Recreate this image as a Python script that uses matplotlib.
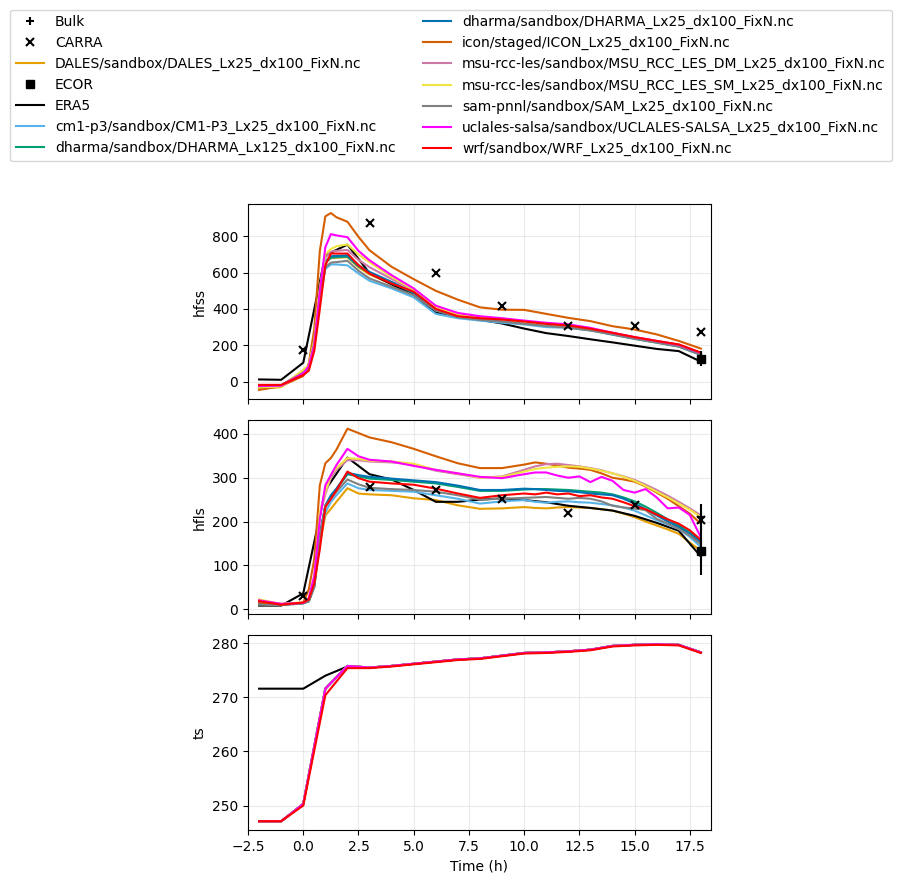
import numpy as np
import matplotlib
matplotlib.use("Agg")
import matplotlib.pyplot as plt

# --- tiempos ---
t_les_hfss = [-2, -1, 0, 0.25, 0.5, 0.75, 1, 1.25, 1.5, 2, 2.5, 3, 4, 5, 6, 7, 8, 9, 10, 11, 12, 13, 14, 15, 16, 17, 18]
t_les_hfls = [-2, -1, 0, 0.25, 0.5, 0.75, 1, 1.25, 1.5, 2, 2.5, 3, 4, 5, 6, 7, 8, 9, 10, 10.5, 11, 11.5,
              12, 12.5, 13, 13.5, 14, 14.5, 15, 15.5, 16, 16.5, 17, 17.5, 18]
t_hourly = list(range(-2, 19))
t_carra = [0, 3, 6, 9, 12, 15, 18]
t_obs = [18]

# --- observaciones ---
carra_hfss = [174, 873, 599, 419, 304, 304, 275]
carra_hfls = [30, 279, 273, 251, 220, 238, 203]
bulk_hfss, bulk_hfss_err = [127], [40]
bulk_hfls, bulk_hfls_err = [210], [31]
ecor_hfss = [126]
ecor_hfls, ecor_hfls_err = [133], [54]

era5_hfss = [12, 10, 104, 696, 754, 597, 535, 478, 379, 362, 340, 320, 292, 267, 251, 233, 216, 198, 180, 168, 110]
era5_hfls = [8, 8, 36, 272, 346, 308, 296, 272, 245, 245, 250, 253, 249, 244, 236, 231, 225, 213, 197, 179, 120]
era5_ts = [271.6, 271.6, 271.6, 274.0, 275.7, 275.5, 275.8, 276.2, 276.6, 277.0, 277.2, 277.7,
           278.2, 278.3, 278.5, 278.8, 279.5, 279.7, 279.8, 279.7, 278.3]

# --- LES: hfss ---
hfss_dales = [-40, -30, 62, 88, 225, 470, 655, 680, 682, 685, 630, 590, 538, 485, 395, 355, 342, 332, 318, 306, 298, 282, 260, 236, 215, 193, 148]
hfss_cm1 = [-28, -24, 50, 75, 210, 450, 620, 645, 645, 640, 595, 555, 513, 464, 373, 349, 336, 324, 315, 300, 296, 282, 258, 235, 214, 193, 146]
hfss_dharma125 = [-22, -21, 52, 78, 220, 475, 655, 682, 685, 688, 635, 598, 545, 488, 396, 356, 343, 333, 320, 309, 300, 284, 262, 238, 217, 195, 150]
hfss_dharma25 = [-20, -20, 50, 75, 220, 480, 660, 690, 692, 695, 640, 604, 549, 490, 398, 358, 345, 335, 322, 310, 302, 286, 262, 238, 218, 196, 150]
hfss_icon = [-46, -24, 31, 100, 290, 720, 910, 928, 905, 880, 797, 723, 632, 564, 500, 451, 409, 396, 395, 373, 351, 333, 305, 287, 260, 224, 182]
hfss_msu_dm = [-28, -25, 60, 88, 225, 500, 680, 715, 720, 725, 670, 630, 565, 500, 405, 368, 350, 340, 328, 316, 306, 288, 264, 240, 218, 198, 152]
hfss_msu_sm = [-31, -28, 64, 90, 230, 520, 700, 730, 745, 755, 700, 657, 577, 505, 410, 370, 352, 343, 330, 318, 308, 290, 265, 240, 220, 200, 155]
hfss_sam = [-25, -22, 50, 75, 215, 460, 630, 655, 658, 665, 610, 568, 522, 476, 391, 355, 340, 330, 318, 306, 298, 282, 260, 236, 215, 194, 148]
hfss_uclales = [-24, -22, 46, 85, 200, 500, 740, 812, 805, 795, 720, 668, 586, 513, 418, 378, 360, 349, 336, 324, 315, 296, 269, 245, 224, 203, 158]
hfss_wrf = [-18, -18, 36, 60, 170, 400, 640, 705, 705, 705, 641, 595, 540, 495, 400, 360, 349, 342, 331, 318, 309, 291, 269, 245, 224, 205, 160]

# --- LES: hfls ---
hfls_dales = [18, 10, 14, 18, 50, 150, 214, 229, 245, 276, 264, 262, 260, 253, 249, 237, 229, 230, 233, 231, 230, 232,
              233, 232, 231, 228, 225, 218, 210, 200, 191, 182, 172, 152, 133]
hfls_cm1 = [14, 10, 13, 18, 50, 160, 221, 245, 260, 287, 276, 272, 270, 268, 260, 252, 241, 246, 249, 245, 243, 245,
            246, 244, 243, 240, 237, 232, 225, 214, 203, 193, 183, 165, 142]
hfls_dharma125 = [12, 10, 14, 18, 55, 168, 235, 258, 273, 308, 303, 298, 295, 291, 287, 279, 270, 270, 273, 274, 274, 273,
                  272, 270, 268, 266, 262, 255, 246, 234, 220, 205, 191, 175, 156]
hfls_dharma25 = [12, 10, 14, 18, 55, 170, 237, 260, 275, 311, 306, 302, 298, 294, 290, 282, 272, 272, 275, 274, 272, 270,
                 269, 267, 264, 262, 260, 252, 241, 228, 214, 200, 187, 172, 152]
hfls_icon = [15, 10, 15, 45, 115, 283, 333, 345, 364, 412, 402, 392, 381, 366, 349, 333, 322, 322, 330, 335, 332, 328,
             323, 321, 318, 310, 300, 296, 291, 280, 266, 252, 235, 218, 195]
hfls_msu_dm = [18, 12, 15, 20, 68, 215, 262, 300, 318, 340, 340, 337, 335, 330, 316, 308, 300, 303, 318, 326, 331, 332,
               329, 326, 322, 317, 310, 303, 295, 284, 272, 259, 245, 230, 214]
hfls_msu_sm = [22, 12, 15, 20, 70, 221, 268, 306, 322, 345, 343, 339, 337, 332, 318, 310, 300, 302, 314, 320, 323, 325,
               326, 325, 321, 316, 310, 302, 293, 281, 268, 255, 241, 227, 210]
hfls_sam = [10, 9, 13, 18, 52, 165, 237, 252, 268, 296, 285, 277, 274, 272, 268, 260, 250, 252, 254, 255, 256, 254,
            252, 254, 252, 246, 236, 232, 230, 226, 206, 195, 183, 168, 148]
hfls_uclales = [20, 12, 14, 25, 77, 206, 283, 306, 329, 366, 349, 341, 337, 327, 318, 310, 302, 299, 308, 312, 312, 305,
                300, 303, 290, 302, 293, 272, 266, 274, 255, 230, 232, 215, 164]
hfls_wrf = [18, 10, 15, 22, 59, 137, 233, 252, 271, 314, 299, 291, 287, 284, 275, 264, 254, 260, 264, 262, 266, 262,
            264, 258, 260, 255, 252, 244, 235, 228, 216, 205, 195, 180, 158]

# --- LES: ts (casi iguales entre modelos) ---
ts_les = [247.1, 247.1, 250.3, 271.6, 275.8, 275.5, 275.8, 276.2, 276.6, 277.0, 277.2, 277.7,
          278.2, 278.3, 278.5, 278.8, 279.5, 279.7, 279.8, 279.7, 278.3]
ts_wrf = [247.1, 247.1, 250.0, 270.4, 275.4, 275.4, 275.7, 276.1, 276.5, 276.9, 277.1, 277.6,
          278.1, 278.2, 278.4, 278.7, 279.4, 279.6, 279.7, 279.6, 278.2]

modelos = [
    ("DALES/sandbox/DALES_Lx25_dx100_FixN.nc", "#E69F00", hfss_dales, hfls_dales, ts_les),
    ("cm1-p3/sandbox/CM1-P3_Lx25_dx100_FixN.nc", "#56B4E9", hfss_cm1, hfls_cm1, ts_les),
    ("dharma/sandbox/DHARMA_Lx125_dx100_FixN.nc", "#009E73", hfss_dharma125, hfls_dharma125, ts_les),
    ("dharma/sandbox/DHARMA_Lx25_dx100_FixN.nc", "#0072B2", hfss_dharma25, hfls_dharma25, ts_les),
    ("icon/staged/ICON_Lx25_dx100_FixN.nc", "#D55E00", hfss_icon, hfls_icon, ts_les),
    ("msu-rcc-les/sandbox/MSU_RCC_LES_DM_Lx25_dx100_FixN.nc", "#CC79A7", hfss_msu_dm, hfls_msu_dm, ts_les),
    ("msu-rcc-les/sandbox/MSU_RCC_LES_SM_Lx25_dx100_FixN.nc", "#F0E442", hfss_msu_sm, hfls_msu_sm, ts_les),
    ("sam-pnnl/sandbox/SAM_Lx25_dx100_FixN.nc", "#808080", hfss_sam, hfls_sam, ts_les),
    ("uclales-salsa/sandbox/UCLALES-SALSA_Lx25_dx100_FixN.nc", "#FF00FF", hfss_uclales, hfls_uclales, ts_les),
    ("wrf/sandbox/WRF_Lx25_dx100_FixN.nc", "#FF0000", hfss_wrf, hfls_wrf, ts_wrf),
]

fig, axs = plt.subplots(3, 1, sharex=True, figsize=(9.02, 8.84), dpi=100)
fig.subplots_adjust(left=0.275, right=0.788, top=0.769, bottom=0.061, hspace=0.108)

mk = dict(ls="none", mew=1.5, ms=6, zorder=3)

# observaciones
axs[0].plot(t_obs, bulk_hfss, "k+", label="Bulk", **mk)
axs[0].errorbar(t_obs, bulk_hfss, yerr=bulk_hfss_err, fmt="none", ecolor="k", zorder=3)
axs[0].plot(t_carra, carra_hfss, "kx", label="CARRA", **mk)
axs[1].plot(t_obs, bulk_hfls, "k+", **mk)
axs[1].errorbar(t_obs, bulk_hfls, yerr=bulk_hfls_err, fmt="none", ecolor="k", zorder=3)
axs[1].plot(t_carra, carra_hfls, "kx", **mk)

# DALES primero (orden alfabetico de la leyenda)
nombre, c, hs, hl, ts = modelos[0]
axs[0].plot(t_les_hfss, hs, color=c, label=nombre)
axs[1].plot(t_les_hfls, hl, color=c)
axs[2].plot(t_hourly, ts, color=c)

axs[0].plot(t_obs, ecor_hfss, "ks", label="ECOR", ls="none", ms=6, zorder=3)
axs[1].plot(t_obs, ecor_hfls, "ks", ls="none", ms=6, zorder=3)
axs[1].errorbar(t_obs, ecor_hfls, yerr=ecor_hfls_err, fmt="none", ecolor="k", zorder=3)

axs[0].plot(t_hourly, era5_hfss, color="k", label="ERA5")
axs[1].plot(t_hourly, era5_hfls, color="k")
axs[2].plot(t_hourly, era5_ts, color="k")

for nombre, c, hs, hl, ts in modelos[1:]:
    axs[0].plot(t_les_hfss, hs, color=c, label=nombre)
    axs[1].plot(t_les_hfls, hl, color=c)
    axs[2].plot(t_hourly, ts, color=c)

axs[0].set_ylabel("hfss")
axs[1].set_ylabel("hfls")
axs[2].set_ylabel("ts")
axs[2].set_xlabel("Time (h)")
axs[2].set_xlim(-2.5, 18.45)
for ax in axs:
    ax.grid(True, alpha=0.25)

h, l = axs[0].get_legend_handles_labels()
fig.legend(h, l, loc="upper center", ncol=2, bbox_to_anchor=(0.5, 0.997))

plt.savefig("out.png", dpi=100)
